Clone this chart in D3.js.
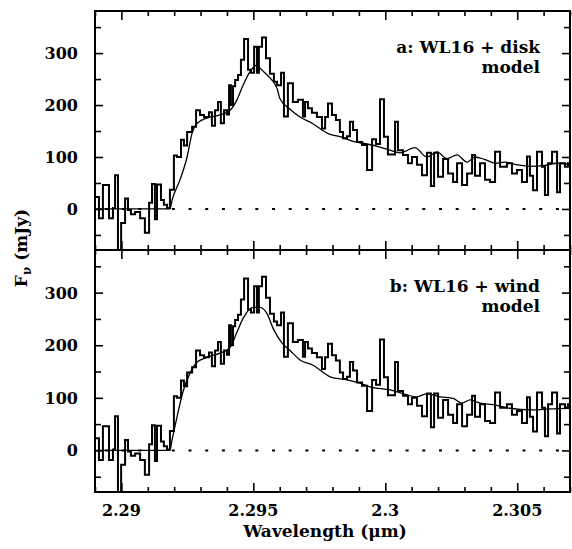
<!DOCTYPE html>
<html><head><meta charset="utf-8">
<script src="https://cdn.jsdelivr.net/npm/d3@7"></script>
<style>
body{margin:0;background:#fff;}
text{font-family:"DejaVu Serif",serif;font-weight:bold;fill:#000;}
</style></head>
<body><svg id="chart" width="572" height="549"></svg>
<script>
// Observed spectrum (step histogram): bin start wavelength (µm) and flux (mJy)
const dataWl = [2.28900,2.28915,2.28930,2.28953,2.28968,2.28976,2.28987,2.28999,2.29014,2.29025,
2.29036,2.29052,2.29071,2.29089,2.29105,2.29116,2.29127,2.29135,2.29150,2.29161,
2.29173,2.29184,2.29199,2.29211,2.29226,2.29237,2.29249,2.29268,2.29283,2.29298,
2.29313,2.29332,2.29343,2.29355,2.29366,2.29377,2.29389,2.29400,2.29408,2.29415,
2.29423,2.29431,2.29442,2.29453,2.29465,2.29480,2.29491,2.29503,2.29514,2.29521,
2.29533,2.29548,2.29563,2.29578,2.29590,2.29605,2.29616,2.29631,2.29650,2.29669,
2.29688,2.29696,2.29707,2.29722,2.29741,2.29760,2.29772,2.29783,2.29798,2.29813,
2.29828,2.29840,2.29855,2.29866,2.29878,2.29893,2.29912,2.29931,2.29950,2.29965,
2.29980,2.29995,2.30010,2.30037,2.30048,2.30067,2.30086,2.30101,2.30120,2.30139,
2.30158,2.30173,2.30185,2.30200,2.30219,2.30238,2.30257,2.30272,2.30291,2.30310,
2.30329,2.30340,2.30359,2.30378,2.30397,2.30416,2.30435,2.30461,2.30480,2.30499,
2.30518,2.30537,2.30548,2.30560,2.30575,2.30594,2.30605,2.30617,2.30632,2.30651,
2.30662,2.30681,2.30692,2.30700];
const dataFlux = [23,-18,46,-18,2,65,-80,-27,20,-2,
-10,-6,-18,-46,12,48,-20,47,17,8,
2,37,103,100,133,122,148,158,190,181,
177,186,160,190,206,165,190,182,238,200,
236,248,258,287,327,268,262,312,262,312,
330,290,260,245,238,262,178,242,206,210,
178,206,194,185,177,155,177,203,181,171,
148,136,140,168,152,129,123,75,134,125,
211,139,105,168,113,104,88,100,85,65,
108,44,108,62,96,68,52,88,46,68,
104,64,88,56,52,110,81,88,68,75,
52,101,64,36,110,81,27,88,110,32,
88,81,88,88];

// Model a: disk
const diskWl = [2.28900,2.29184,2.29192,2.29222,2.29249,2.29268,2.29287,2.29324,2.29374,2.29412,
2.29438,2.29461,2.29487,2.29514,2.29525,2.29552,2.29590,2.29601,2.29639,2.29677,
2.29726,2.29783,2.29828,2.29878,2.29931,2.29980,2.30018,2.30056,2.30112,2.30158,
2.30196,2.30234,2.30272,2.30310,2.30340,2.30378,2.30416,2.30454,2.30499,2.30548,
2.30605,2.30651,2.30700];
const diskFlux = [0,0,17,56,100,146,165,175,181,190,
210,238,264,277,271,258,232,212,192,177,
164,145,139,130,125,119,113,108,118,100,
110,97,104,90,100,95,88,90,85,82,
84,88,86];

// Model b: wind
const windWl = [2.28900,2.29184,2.29192,2.29211,2.29233,2.29260,2.29287,2.29324,2.29374,2.29412,
2.29438,2.29461,2.29499,2.29525,2.29552,2.29575,2.29609,2.29639,2.29677,2.29726,
2.29791,2.29855,2.29904,2.29942,2.30018,2.30067,2.30120,2.30158,2.30207,2.30257,
2.30291,2.30321,2.30359,2.30408,2.30461,2.30560,2.30624,2.30700];
const windFlux = [0,0,20,64,111,147,168,177,185,196,
225,251,272,272,260,232,204,190,172,162,
140,134,128,121,115,108,102,108,102,99,
90,96,90,87,81,77,79,80];

const xMajor = [2.29, 2.295, 2.3, 2.305];
const xMajorLabels = ["2.29", "2.295", "2.3", "2.305"];
const xMinor = [2.289,2.291,2.292,2.293,2.294,2.296,2.297,2.298,2.299,2.301,2.302,2.303,2.304,2.306,2.307];
const yMajor = [0, 100, 200, 300];
const yMinor = [-50, 50, 150, 250, 350];
const panelLabels = [["a: WL16 + disk", "model"], ["b: WL16 + wind", "model"]];

const svg = d3.select("#chart");
const left = 95, right = 570;
const x = d3.scaleLinear().domain([2.289, 2.307]).range([left, right]);
const panels = [
  {top: 11, bottom: 250, model: [diskWl, diskFlux], label: panelLabels[0]},
  {top: 250, bottom: 492, model: [windWl, windFlux], label: panelLabels[1]}
];

panels.forEach((p, i) => {
  const y = d3.scaleLinear().domain([-79, 381]).range([p.bottom, p.top]);
  const g = svg.append("g");
  const clipId = "clip" + i;
  g.append("clipPath").attr("id", clipId).append("rect")
    .attr("x", left).attr("y", p.top).attr("width", right - left).attr("height", p.bottom - p.top);
  const plot = g.append("g").attr("clip-path", `url(#${clipId})`);

  // dotted zero line
  plot.append("line").attr("x1", left).attr("x2", right)
    .attr("y1", y(0)).attr("y2", y(0))
    .attr("stroke", "#000").attr("stroke-width", 2).attr("stroke-dasharray", "3,13.7")
    .attr("stroke-dashoffset", -10);

  // model line
  const mPts = p.model[0].map((w, k) => [w, p.model[1][k]]);
  plot.append("path").datum(mPts)
    .attr("d", d3.line().x(d => x(d[0])).y(d => y(d[1])).curve(d3.curveMonotoneX))
    .attr("fill", "none").attr("stroke", "#000").attr("stroke-width", 1.3);

  // data histogram
  const dPts = dataWl.map((w, k) => [w, dataFlux[k]]);
  plot.append("path").datum(dPts)
    .attr("d", d3.line().x(d => x(d[0])).y(d => y(d[1])).curve(d3.curveStepAfter))
    .attr("fill", "none").attr("stroke", "#000").attr("stroke-width", 2).attr("stroke-linejoin", "miter");

  // ticks via axes
  const addAxis = (axis, tx, ty) => {
    const a = g.append("g").attr("transform", `translate(${tx},${ty})`).call(axis);
    a.select(".domain").remove();
    a.selectAll(".tick line").attr("stroke", "#000").attr("stroke-width", 1.6);
    return a;
  };
  addAxis(d3.axisBottom(x).tickValues(xMajor).tickSize(-9).tickFormat(""), 0, p.bottom);
  addAxis(d3.axisBottom(x).tickValues(xMinor).tickSize(-5).tickFormat(""), 0, p.bottom);
  addAxis(d3.axisTop(x).tickValues(xMajor).tickSize(-9).tickFormat(""), 0, p.top);
  addAxis(d3.axisTop(x).tickValues(xMinor).tickSize(-5).tickFormat(""), 0, p.top);
  addAxis(d3.axisLeft(y).tickValues(yMajor).tickSize(-8).tickFormat(""), left, 0);
  addAxis(d3.axisLeft(y).tickValues(yMinor).tickSize(-6).tickFormat(""), left, 0);
  addAxis(d3.axisRight(y).tickValues(yMajor).tickSize(-8).tickFormat(""), right, 0);
  addAxis(d3.axisRight(y).tickValues(yMinor).tickSize(-6).tickFormat(""), right, 0);

  // y tick labels
  g.selectAll("text.ylab").data(yMajor).join("text")
    .attr("x", 78).attr("y", d => y(d) + 6)
    .attr("text-anchor", "end").attr("font-size", 16).text(d => d);

  // frame
  g.append("rect").attr("x", left).attr("y", p.top)
    .attr("width", right - left).attr("height", p.bottom - p.top)
    .attr("fill", "none").attr("stroke", "#000").attr("stroke-width", 2);

  // panel label
  g.append("text").attr("x", 540).attr("y", p.top + 42).attr("text-anchor", "end")
    .attr("font-size", 17).text(p.label[0]);
  g.append("text").attr("x", 540).attr("y", p.top + 62).attr("text-anchor", "end")
    .attr("font-size", 17).text(p.label[1]);
});

// x tick labels
svg.selectAll("text.xlab").data(xMajor).join("text")
  .attr("x", d => x(d)).attr("y", 516).attr("text-anchor", "middle")
  .attr("font-size", 16).text((d, k) => xMajorLabels[k]);

// axis titles
svg.append("text").attr("x", 325).attr("y", 537).attr("text-anchor", "middle")
  .attr("font-size", 17).text("Wavelength (μm)");
const yt = svg.append("text").attr("transform", "translate(27,248) rotate(-90)")
  .attr("text-anchor", "middle").attr("font-size", 17);
yt.append("tspan").text("F");
yt.append("tspan").attr("font-size", 12).attr("dy", 4).text("ν");
yt.append("tspan").attr("dy", -4).text(" (mJy)");
</script></body></html>
